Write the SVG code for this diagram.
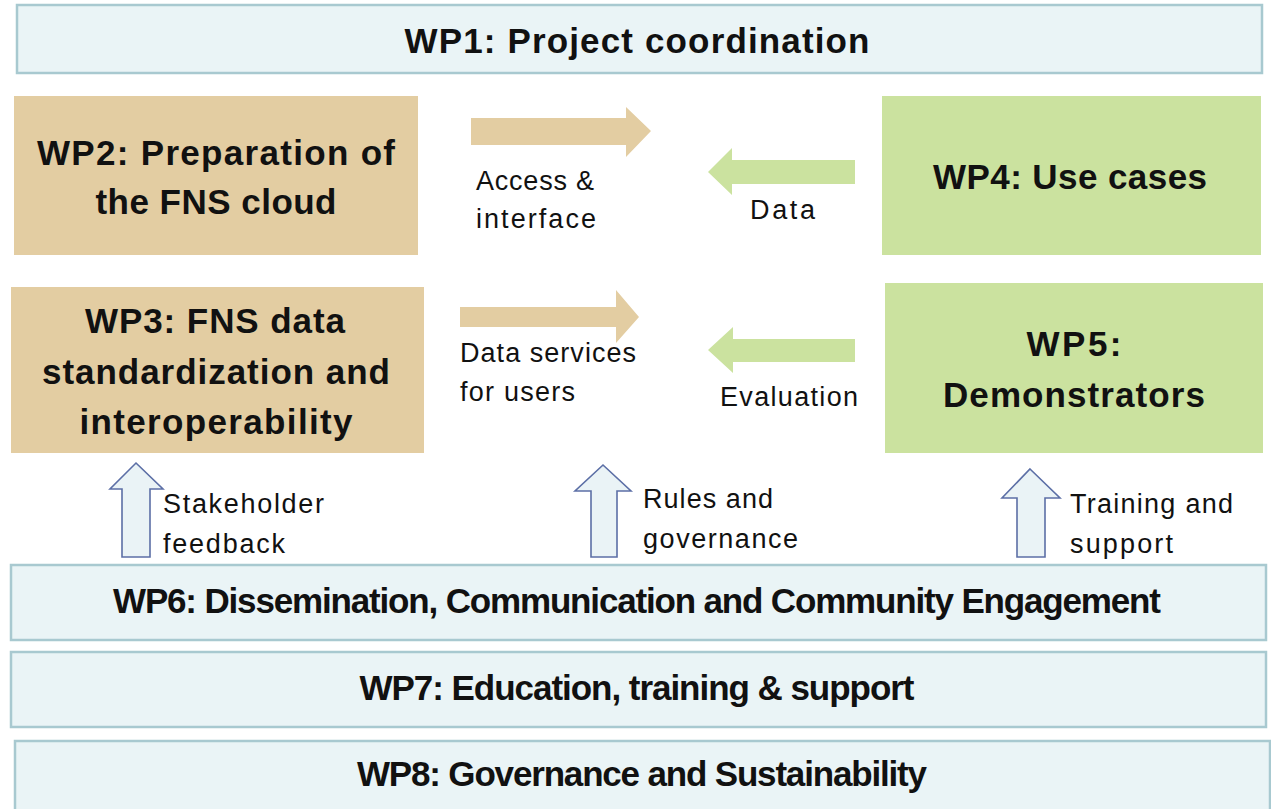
<svg xmlns="http://www.w3.org/2000/svg" width="1271" height="809" viewBox="0 0 1271 809">
<style>
.wp{fill:#eaf4f6;stroke:#a8c9d0;stroke-width:2.5}
.tan{fill:#e3cda2}
.grn{fill:#cbe29f}
.b{font-family:"Liberation Sans",Arial,sans-serif;font-weight:bold;font-size:35px;fill:#111;text-anchor:middle}
.l{font-family:"Liberation Sans",Arial,sans-serif;font-size:27px;fill:#111}
.up{fill:#eaf3f6;stroke:#5c6fa6;stroke-width:1.6;stroke-linejoin:miter}
</style>
<rect width="1271" height="809" fill="#ffffff"/>
<g id="wp1"><rect class="wp" x="17" y="5" width="1245" height="68"/><text class="b" x="637" y="53" textLength="465">WP1: Project coordination</text></g>
<g id="wp2"><rect class="tan" x="14" y="96" width="404" height="159"/><text class="b" x="216" y="165" textLength="358">WP2: Preparation of</text><text class="b" x="216" y="214" textLength="241">the FNS cloud</text></g>
<g id="wp3"><rect class="tan" x="11" y="287" width="413" height="166"/><text class="b" x="215" y="333" textLength="260">WP3: FNS data</text><text class="b" x="216" y="384" textLength="348">standardization and</text><text class="b" x="216" y="434" textLength="273">interoperability</text></g>
<g id="wp4"><rect class="grn" x="882" y="96" width="379" height="159"/><text class="b" x="1070" y="189" textLength="274">WP4: Use cases</text></g>
<g id="wp5"><rect class="grn" x="885" y="283" width="378" height="170"/><text class="b" x="1074" y="356" textLength="95">WP5:</text><text class="b" x="1074" y="407" textLength="262">Demonstrators</text></g>
<g id="wp6"><rect class="wp" x="11" y="565" width="1255" height="75"/><text class="b" x="637" y="613" textLength="1048">WP6: Dissemination, Communication and Community Engagement</text></g>
<g id="wp7"><rect class="wp" x="11" y="652" width="1255" height="75"/><text class="b" x="637" y="700" textLength="555">WP7: Education, training &amp; support</text></g>
<g id="wp8"><rect class="wp" x="15" y="741" width="1255" height="80"/><text class="b" x="642" y="786" textLength="570">WP8: Governance and Sustainability</text></g>
<g id="connectors">
<polygon class="tan" points="471,118 626,118 626,107 651,131 626,157 626,145 471,145"/>
<polygon class="grn" points="855,160 732,160 732,148 708,172 732,195 732,184 855,184"/>
<polygon class="tan" points="460,307 616,307 616,290 639,317 616,343 616,327 460,327"/>
<polygon class="grn" points="855,339 733,339 733,327 708,350 733,373 733,362 855,362"/>
<polygon class="up" points="136,463 163,489 150,489 150,557 122,557 122,489 110,489"/>
<polygon class="up" points="603,465 631,491 617,491 617,557 591,557 591,491 575,491"/>
<polygon class="up" points="1030,469 1060,498 1045,498 1045,557 1017,557 1017,498 1002,498"/>
<text class="l" x="476" y="190" textLength="118">Access &amp;</text>
<text class="l" x="476" y="228" textLength="120">interface</text>
<text class="l" x="750" y="219" textLength="65">Data</text>
<text class="l" x="460" y="362" textLength="176">Data services</text>
<text class="l" x="460" y="401" textLength="115">for users</text>
<text class="l" x="720" y="406" textLength="138">Evaluation</text>
<text class="l" x="163" y="513" textLength="161">Stakeholder</text>
<text class="l" x="163" y="553" textLength="122">feedback</text>
<text class="l" x="643" y="508" textLength="130">Rules and</text>
<text class="l" x="643" y="548" textLength="155">governance</text>
<text class="l" x="1070" y="513" textLength="163">Training and</text>
<text class="l" x="1070" y="553" textLength="103">support</text>
</g>
</svg>
